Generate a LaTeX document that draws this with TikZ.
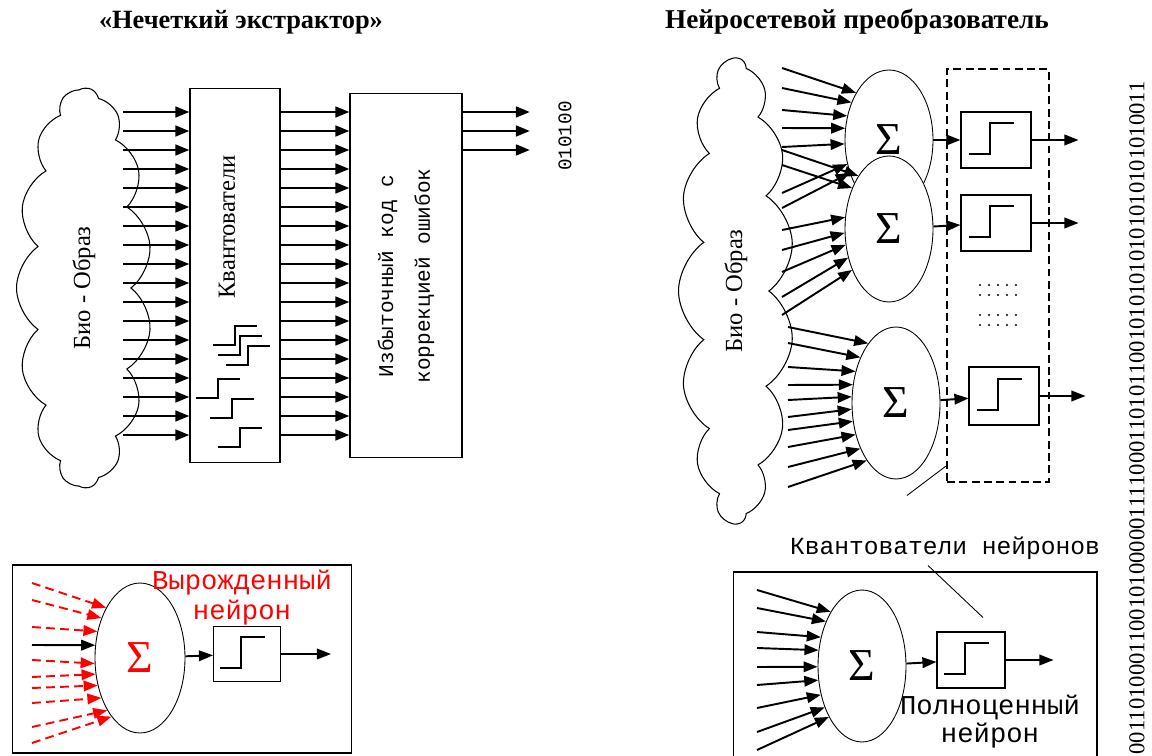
\documentclass[tikz,border=0pt]{standalone}
\usepackage{fontspec}
\setmainfont{Liberation Serif}
\setmonofont{Liberation Mono}
\usetikzlibrary{positioning,arrows.meta}
\usetikzlibrary{shapes.geometric,shapes.symbols}

\begin{document}
\begin{tikzpicture}[x=0.02cm,y=-0.02cm,>={Triangle[length=8pt,width=6pt]},
  blk/.style={draw,line width=0.6pt,fill=white},
  sig/.style={ellipse,draw,line width=0.5pt,fill=white,minimum width=1.76cm,inner sep=0pt,font=\fontsize{26}{26}\selectfont},
  bus/.style={->,line width=1.6pt},
  wire/.style={->,line width=1.1pt},
  thr/.style={line width=1.5pt},
  fake/.style={->,red,line width=1.1pt,dash pattern=on 5pt off 3pt},
  bio/.style={cloud,draw,line width=0.6pt,cloud puffs=15,cloud puff arc=110,cloud ignores aspect,rotate=90,font=\fontsize{14}{16}\selectfont},
  stepicon/.pic={\draw[thr] (-27,14) -- (-6,14) -- (-6,-17) -- (18,-17);}]

\useasboundingbox (0,0) rectangle (1152,756);

% titles
\node[font=\bfseries\fontsize{15}{18}\selectfont] (t1) at (241,22) {«Нечеткий экстрактор»};
\node[font=\bfseries\fontsize{15.5}{18}\selectfont] (t2) at (857,22) {Нейросетевой преобразователь};

% fuzzy extractor
\node[bio,minimum width=8cm,minimum height=2.7cm] (cl1) at (84,288) {Био - Образ};
\node[blk,minimum width=1.8cm,minimum height=7.5cm] (quant) at (235,275.5) {};
\node[rotate=90,font=\fontsize{14}{16}\selectfont] (qlab) at (227,227) {Квантователи};
\node[blk,minimum width=2.24cm,minimum height=7.3cm] (code) at (406,275.5) {};
\node[rotate=90,align=center,font=\ttfamily\fontsize{12}{21}\selectfont] (clab) at (406,276) {Избыточный код с\\коррекцией ошибок};

\foreach \i in {0,...,17} {
  \coordinate (a\i) at (123,{112+19*\i});
  \draw[bus] (a\i) -- (a\i -| quant.west);
  \draw[bus] (a\i -| quant.east) -- (a\i -| code.west);
}
\foreach \i in {0,1,2} {
  \coordinate (b\i) at (530,{112+19*\i});
  \draw[bus] (b\i -| code.east) -- (b\i);
}
\node[rotate=90,font=\ttfamily\fontsize{11}{12}\selectfont] (bits) at (565,136) {010100};

% steps in the quantizer box
\foreach \x/\y in {235/345,240/355,248/365,218/398,232/418,240/447}
  \draw[thr] ({\x-22},\y) -- (\x,\y) -- (\x,{\y-19}) -- ({\x+22},{\y-19});

% neural converter
\node[bio,minimum width=9.3cm,minimum height=2.3cm] (cl2) at (736,291) {Био - Образ};
\node[sig,minimum height=2.8cm] (e1) at (889,140) {Σ};
\node[sig,minimum height=2.92cm] (e2) at (889,229) {Σ};
\node[sig,minimum height=3.04cm] (e3) at (896,403) {Σ};

\foreach \y/\a [count=\i] in {68/125,88/135,110/150,128/165,147/185,193/210,208/220} {
  \coordinate (u\i) at (782,\y);
  \draw[wire] (u\i) -- (e1.\a);
}
\foreach \y/\a [count=\i] in {150/120,165/132,230/165,250/185,272/200,297/215,315/228} {
  \coordinate (v\i) at (782,\y);
  \draw[wire] (v\i) -- (e2.\a);
}
\foreach \y/\a [count=\i] in {327/115,343/128,367/142,385/157,400/172,417/188,430/203,447/218,467/232,487/243} {
  \coordinate (w\i) at (788,\y);
  \draw[wire] (w\i) -- (e3.\a);
}

\node[draw,line width=1.4pt,dash pattern=on 4.5pt off 2.5pt,minimum width=2.04cm,minimum height=8.26cm] (qall) at (998,275.5) {};
\node[blk,minimum width=1.4cm,minimum height=1.12cm] (q1) at (996,140) {};
\node[blk,minimum width=1.4cm,minimum height=1.12cm] (q2) at (996,223) {};
\node[blk,minimum width=1.4cm,minimum height=1.16cm] (q3) at (1004,396) {};
\pic at (q1) {stepicon};
\pic at (q2) {stepicon};
\pic at (q3) {stepicon};

\draw[wire] (e1) -- (q1);
\draw[wire] (e2) -- (q2);
\draw[wire] (e3) -- (q3);
\draw[wire] (q1.east) -- ++(47,0);
\draw[wire] (q2.east) -- ++(47,0);
\draw[wire] (q3.east) -- ++(46,0);

\foreach \r in {285,295,315,325}
  \foreach \c in {0,...,4}
    \fill ({980+9*\c},\r) circle (1.1);

\node[font=\ttfamily\fontsize{14}{16}\selectfont] (qlbl) at (945,548) {Квантователи нейронов};

\node[rotate=90,anchor=east,font=\fontsize{12.9}{14}\selectfont] (code2) at (1137,75) {001101000110010100000111100011010110010101010101010101010011};

% degenerate neuron
\node[blk,minimum width=6.8cm,minimum height=3.76cm] (degbox) at (182,659) {};
\node[sig,minimum width=1.8cm,minimum height=3cm,text=red] (e0) at (140,658) {Σ};
\node[blk,minimum width=1.34cm,minimum height=1.1cm] (q0) at (247,654) {};
\pic at (q0) {stepicon};
\coordinate (r0) at (32,645);
\draw[wire] (r0) -- (e0.164);
\foreach \y/\a [count=\i] in {583/124,600/134,627/148,660/187,677/200,688/213,703/226,727/238,743/244} {
  \coordinate (r\i) at (32,\y);
  \draw[fake] (r\i) -- (e0.\a);
}
\draw[wire] (e0) -- (q0);
\draw[wire] (q0.east) -- ++(50,0);
\node[align=center,text=red,font=\ttfamily\fontsize{15.5}{17}\selectfont] (deglbl) at (242,598) {Вырожденный\\нейрон};

% full neuron
\node[blk,minimum width=7.28cm,minimum height=3.96cm] (fullbox) at (915,671) {};
\node[sig,minimum height=3.04cm] (e4) at (862,666) {Σ};
\node[blk,minimum width=1.36cm,minimum height=1.12cm] (q4) at (971,660) {};
\pic at (q4) {stepicon};
\foreach \y/\a [count=\i] in {590/120,608/129,632/145,648/160,667/181,685/198,708/215,732/228,750/237} {
  \coordinate (f\i) at (757,\y);
  \draw[wire] (f\i) -- (e4.\a);
}
\draw[wire] (e4) -- (q4);
\draw[wire] (q4.east) -- ++(48,0);
\node[align=center,font=\ttfamily\fontsize{15.5}{16}\selectfont] (fulllbl) at (990,722) {Полноценный\\нейрон};

\draw[line width=0.5pt] ([xshift=-38*0.02cm,yshift=0.7cm]qlbl.north) -- ([yshift=0.34cm]qall.south west);
\draw[line width=0.5pt] ([xshift=-17*0.02cm]qlbl.south) -- ([xshift=12*0.02cm,yshift=0.28cm]q4.north);
\end{tikzpicture}
\end{document}
